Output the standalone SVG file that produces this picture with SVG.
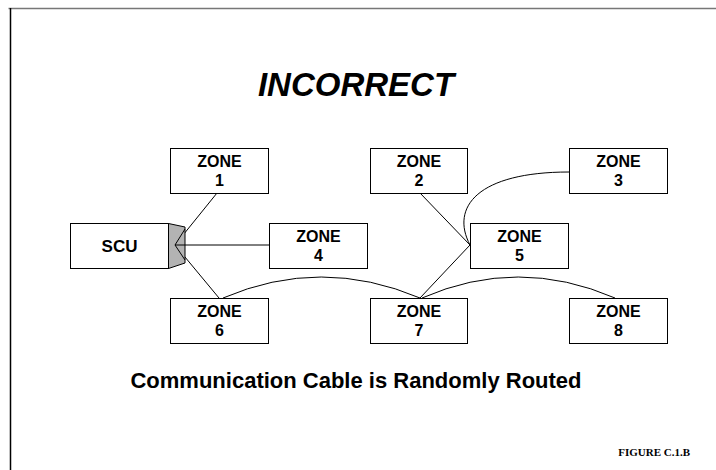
<svg xmlns="http://www.w3.org/2000/svg" width="716" height="470" viewBox="0 0 716 470">
<style>
.box{fill:#fff;stroke:#000;stroke-width:1}
.t{font-family:"Liberation Sans",Arial,sans-serif;font-weight:bold;font-size:16px;text-anchor:middle;fill:#000}
.c{fill:none;stroke:#000;stroke-width:1}
</style>
<rect width="716" height="470" fill="#fff"/>
<path d="M8.5,8.5 H716" fill="none" stroke="#777" stroke-width="1.5"/>
<path d="M10.5,8 V470" fill="none" stroke="#000" stroke-width="1.5"/>
<text x="356" y="96" font-family="Liberation Sans,Arial,sans-serif" font-weight="bold" font-style="italic" font-size="33" text-anchor="middle">INCORRECT</text>
<g id="connectors">
<path class="c" d="M175,245 L217,193"/>
<path class="c" d="M175,245 L269,245"/>
<path class="c" d="M175,245 L219,298"/>
<path class="c" d="M420,193 L470,245"/>
<path class="c" d="M470,245 L420,298"/>
<path class="c" d="M569,172 C478,172 450,207 470,245"/>
<path class="c" d="M223,298 Q321,256 420,298"/>
<path class="c" d="M422,298 Q518,256 615,298"/>
</g>
<g id="scu">
<rect class="box" x="70.5" y="223.5" width="98" height="45"/>
<text class="t" x="119.5" y="252" style="font-size:17px">SCU</text>
<path d="M168.5,223.5 L185,227 L185,263 L168.5,268.5 Z" fill="#b3b3b3" stroke="#000" stroke-width="1"/>
<path class="c" d="M185,245 L175,245 L185,229 M175,245 L185,260"/>
</g>
<g id="zone1"><rect class="box" x="170.5" y="148.5" width="98" height="45"/><text class="t" x="219.5" y="167">ZONE</text><text class="t" x="219.5" y="186">1</text></g>
<g id="zone2"><rect class="box" x="370.5" y="148.5" width="97" height="45"/><text class="t" x="419" y="167">ZONE</text><text class="t" x="419" y="186">2</text></g>
<g id="zone3"><rect class="box" x="569.5" y="148.5" width="98" height="45"/><text class="t" x="618.5" y="167">ZONE</text><text class="t" x="618.5" y="186">3</text></g>
<g id="zone4"><rect class="box" x="269.5" y="223.5" width="98" height="45"/><text class="t" x="318.5" y="242">ZONE</text><text class="t" x="318.5" y="261">4</text></g>
<g id="zone5"><rect class="box" x="470.5" y="223.5" width="98" height="45"/><text class="t" x="519.5" y="242">ZONE</text><text class="t" x="519.5" y="261">5</text></g>
<g id="zone6"><rect class="box" x="170.5" y="298.5" width="98" height="45"/><text class="t" x="219.5" y="317">ZONE</text><text class="t" x="219.5" y="336">6</text></g>
<g id="zone7"><rect class="box" x="370.5" y="298.5" width="97" height="45"/><text class="t" x="419" y="317">ZONE</text><text class="t" x="419" y="336">7</text></g>
<g id="zone8"><rect class="box" x="569.5" y="298.5" width="98" height="45"/><text class="t" x="618.5" y="317">ZONE</text><text class="t" x="618.5" y="336">8</text></g>
<text x="356" y="388" font-family="Liberation Sans,Arial,sans-serif" font-weight="bold" font-size="22" text-anchor="middle">Communication Cable is Randomly Routed</text>
<text x="690" y="456" font-family="Liberation Serif,Times New Roman,serif" font-weight="bold" font-size="11" text-anchor="end">FIGURE C.1.B</text>
</svg>
